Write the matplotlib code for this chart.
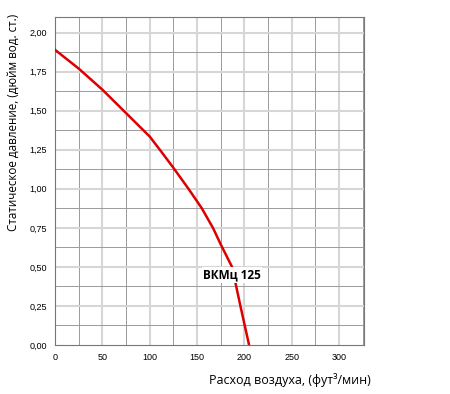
import matplotlib
matplotlib.use("Agg")
import matplotlib.pyplot as plt
import numpy as np

flow = [0, 25, 50, 75, 100, 112, 125, 141, 155, 167, 175, 187, 196, 205]
pressure = [1.89, 1.77, 1.635, 1.485, 1.335, 1.24, 1.135, 1.00, 0.876, 0.748, 0.645, 0.50, 0.246, 0.00]
x_ticks = [0, 50, 100, 150, 200, 250, 300]
y_ticks = [0.0, 0.25, 0.5, 0.75, 1.0, 1.25, 1.5, 1.75, 2.0]
y_tick_labels = ["0,00", "0,25", "0,50", "0,75", "1,00", "1,25", "1,50", "1,75", "2,00"]
series_label = "ВКМц 125"

plt.rcParams['font.family'] = ['Liberation Sans', 'DejaVu Sans']
fig = plt.figure(figsize=(4.5, 3.94), dpi=100)
ax = fig.add_axes([55/450, 1-345/394, (364-55)/450, (345-17)/394])
ax.set_xlim(0, 326.4)
ax.set_ylim(0, 2.1)

for xv in np.arange(25, 326, 25):
    major = (xv % 50 == 0)
    ax.axvline(xv, color="#d6d6d6" if major else "#9a9a9a", lw=1.5 if major else 0.7, zorder=0)
for yv in np.arange(0.125, 2.11, 0.125):
    major = abs((yv / 0.25) - round(yv / 0.25)) < 1e-6
    ax.axhline(yv, color="#d6d6d6" if major else "#9a9a9a", lw=1.5 if major else 0.7, zorder=0)

ax.plot(flow, pressure, color="#dd0000", lw=1.8, zorder=3, solid_joinstyle="round")

ax.set_xticks(x_ticks)
ax.set_yticks(y_ticks)
ax.set_yticklabels(y_tick_labels)
ax.tick_params(labelsize=6.5, length=0, pad=6)
for s in ax.spines.values():
    s.set_color("#777777")
    s.set_linewidth(0.8)

ax.text(187, 0.45, series_label, fontsize=8.5, fontweight="bold",
        family=['Open Sans', 'DejaVu Sans'],
        ha="center", va="center", zorder=4,
        bbox=dict(facecolor="white", edgecolor="none", pad=1.0))

fig.text(13/450, 1-122/394, "Статическое давление, (дюйм вод. ст.)", rotation=90,
         ha="center", va="center", fontsize=8.4, family=['Open Sans', 'DejaVu Sans'])
fig.text(290/450, 1-380/394, "Расход воздуха, (фут³/мин)", ha="center", va="center",
         fontsize=9, family=['Open Sans', 'DejaVu Sans'])

fig.savefig("out.png", dpi=100)
